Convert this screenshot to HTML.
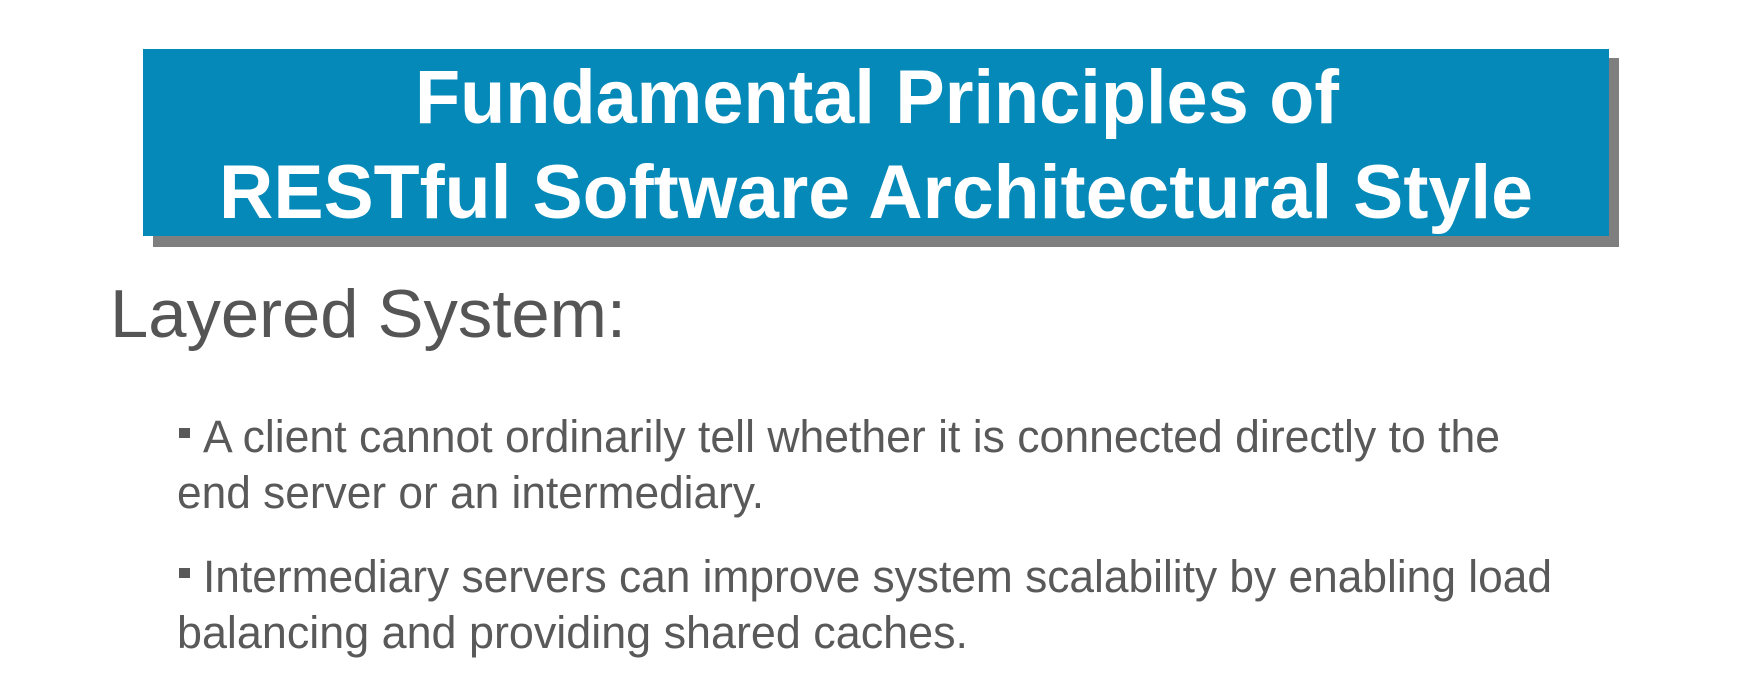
<!DOCTYPE html>
<html><head><meta charset="utf-8"><style>
html,body{margin:0;padding:0;background:#fff;width:1754px;height:680px;overflow:hidden}
svg{display:block}
</style></head><body>
<svg width="1754" height="680" viewBox="0 0 1754 680" xmlns="http://www.w3.org/2000/svg">
<rect x="153" y="58" width="1466" height="189" fill="#7f7f7f"/>
<rect x="143" y="49" width="1466" height="187" fill="#0489b8"/>
<g font-family="Liberation Sans, sans-serif" font-weight="bold" fill="#fff" font-size="76">
<text x="415" y="123" textLength="924" lengthAdjust="spacingAndGlyphs">Fundamental Principles of</text>
<text x="219" y="218" textLength="1314" lengthAdjust="spacingAndGlyphs">RESTful Software Architectural Style</text>
</g>
<text x="110" y="337" font-family="Liberation Sans, sans-serif" font-size="68" fill="#555" textLength="516" lengthAdjust="spacingAndGlyphs">Layered System:</text>
<g font-family="Liberation Sans, sans-serif" font-size="45" fill="#595959">
<rect x="179" y="428" width="11" height="10"/>
<text x="203" y="452" textLength="1297" lengthAdjust="spacingAndGlyphs">A client cannot ordinarily tell whether it is connected directly to the</text>
<text x="177" y="508" textLength="587" lengthAdjust="spacingAndGlyphs">end server or an intermediary.</text>
<rect x="179" y="568" width="11" height="10"/>
<text x="203" y="592" textLength="1349" lengthAdjust="spacingAndGlyphs">Intermediary servers can improve system scalability by enabling load</text>
<text x="177" y="648" textLength="791" lengthAdjust="spacingAndGlyphs">balancing and providing shared caches.</text>
</g>
</svg>
</body></html>
